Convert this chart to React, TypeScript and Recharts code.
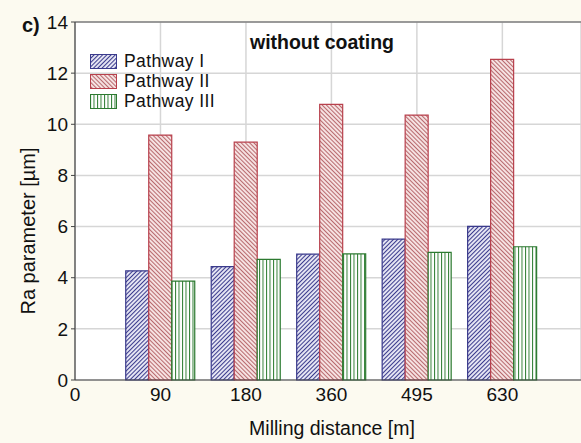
import { BarChart, Bar, XAxis, YAxis, CartesianGrid, Legend, Label, ReferenceLine } from 'recharts'

// milling distance groups [m]
const distances = ['90', '180', '360', '495', '630']
const xTickLabels = ['0', ...distances]

// Ra parameter [µm], without coating
const pathwayI = [4.27, 4.43, 4.92, 5.51, 6.01]
const pathwayII = [9.58, 9.3, 10.78, 10.36, 12.54]
const pathwayIII = [3.87, 4.72, 4.93, 4.99, 5.21]

const yTicks = [0, 2, 4, 6, 8, 10, 12, 14]

const series = [
  { key: 'p1', name: 'Pathway I', fill: 'url(#hatchBlue)', stroke: '#3a3a8c' },
  { key: 'p2', name: 'Pathway II', fill: 'url(#hatchRed)', stroke: '#b8404c' },
  { key: 'p3', name: 'Pathway III', fill: 'url(#hatchGreen)', stroke: '#2c7a30' },
]

const data = distances.map((d, i) => ({
  x: i + 1,
  label: d,
  p1: pathwayI[i],
  p2: pathwayII[i],
  p3: pathwayIII[i],
}))

const font = 'Arial, "Liberation Sans", sans-serif'

function HatchLegend() {
  return (
    <div style={{ fontFamily: font, fontSize: 17.5, letterSpacing: 0.4, color: '#111' }}>
      {series.map(s => (
        <div key={s.key} style={{ display: 'flex', alignItems: 'center', height: 20 }}>
          <svg width={27} height={15} style={{ marginRight: 7 }}>
            <rect x={0.5} y={0.5} width={26} height={14} fill={s.fill} stroke={s.stroke} />
          </svg>
          <span>{s.name}</span>
        </div>
      ))}
    </div>
  )
}

export default function App() {
  return (
    <div style={{ width: 581, height: 443, background: '#fcfaf0', fontFamily: font }}>
      <style>{'body{margin:0;background:#fcfaf0}'}</style>
      <BarChart
        width={581}
        height={443}
        data={data}
        margin={{ top: 22, right: 0, bottom: 0, left: 0 }}
        barGap={0}
      >
        <defs>
          <pattern id="hatchBlue" width={3} height={3} patternUnits="userSpaceOnUse" patternTransform="rotate(45)">
            <rect width={3} height={3} fill="#e8e8f5" />
            <line x1={0.5} y1={0} x2={0.5} y2={3} stroke="#3c3c8e" strokeWidth={1.1} />
          </pattern>
          <pattern id="hatchRed" width={3} height={3} patternUnits="userSpaceOnUse" patternTransform="rotate(-45)">
            <rect width={3} height={3} fill="#f7e4e4" />
            <line x1={0.5} y1={0} x2={0.5} y2={3} stroke="#b86a6e" strokeWidth={1.1} />
          </pattern>
          <pattern id="hatchGreen" width={3.5} height={4} patternUnits="userSpaceOnUse">
            <rect width={3.5} height={4} fill="#ffffff" />
            <line x1={0.5} y1={0} x2={0.5} y2={4} stroke="#2e7d32" strokeWidth={1} />
          </pattern>
        </defs>
        <CartesianGrid fill="#ffffff" stroke="#d6d6d6" strokeWidth={1.5} />
        <XAxis
          type="number"
          dataKey="x"
          domain={[0, 5.92]}
          ticks={[0, 1, 2, 3, 4, 5]}
          tickFormatter={(v: number) => xTickLabels[v]}
          allowDataOverflow
          height={63}
          tickSize={0}
          tickMargin={8}
          axisLine={{ stroke: '#444', strokeWidth: 1.2 }}
          tick={{ fill: '#111', fontSize: 19, fontFamily: font }}
        >
          <Label value="Milling distance [m]" position="insideBottom" offset={8} dx={4} style={{ fill: '#111', fontSize: 19.5, fontFamily: font }} />
        </XAxis>
        <YAxis
          domain={[0, 14]}
          ticks={yTicks}
          width={75}
          tickSize={4}
          tickMargin={3}
          axisLine={{ stroke: '#444', strokeWidth: 1.2 }}
          tickLine={{ stroke: '#444' }}
          tick={{ fill: '#111', fontSize: 19, fontFamily: font }}
        >
          <Label value="Ra parameter [µm]" angle={-90} position="center" dx={-10} dy={30} style={{ fill: '#111', fontSize: 20, fontFamily: font }} />
        </YAxis>
        <ReferenceLine y={14} stroke="#555" strokeWidth={1.2} />
        <Legend
          layout="vertical"
          verticalAlign="middle"
          align="center"
          wrapperStyle={{ top: 51, left: 90, width: 'auto' }}
          content={() => <HatchLegend />}
        />
        {series.map(s => (
          <Bar
            key={s.key}
            dataKey={s.key}
            name={s.name}
            fill={s.fill}
            stroke={s.stroke}
            strokeWidth={1.2}
            barSize={23}
            isAnimationActive={false}
          />
        ))}
        <text x={22} y={32} fontSize={20} fontWeight="bold" fontFamily={font} fill="#111">c)</text>
        <text x={322} y={49} fontSize={19.5} fontWeight="bold" fontFamily={font} fill="#111" textAnchor="middle">without coating</text>
      </BarChart>
    </div>
  )
}
